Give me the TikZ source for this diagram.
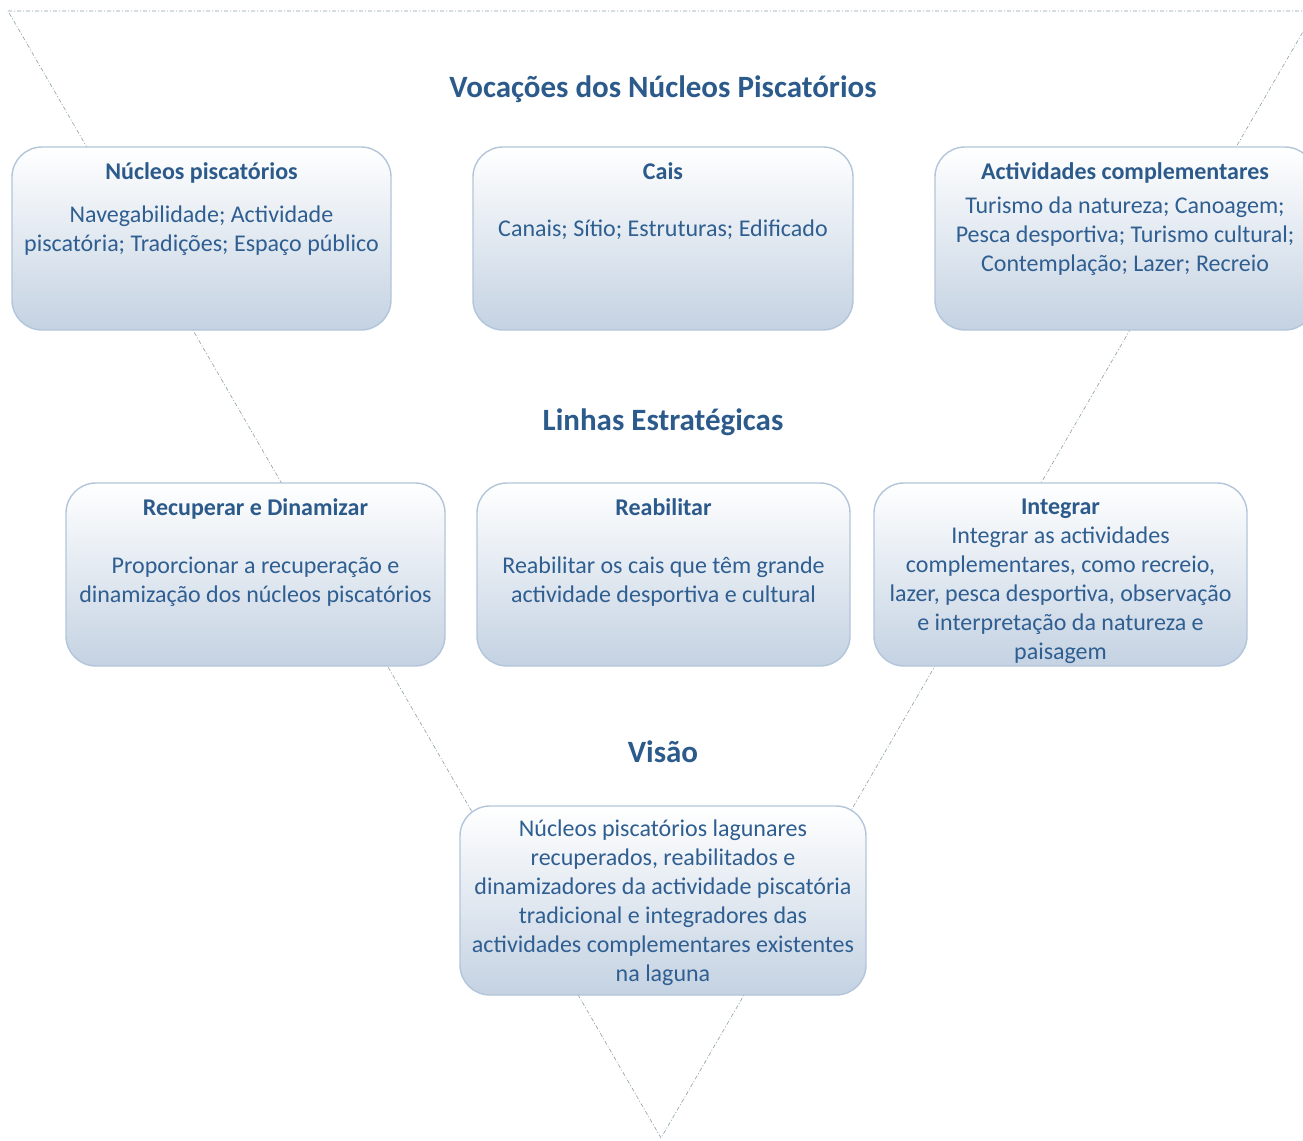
\documentclass[tikz,border=0pt]{standalone}
\usepackage{fontspec}
\setmainfont{Carlito}
\definecolor{inkblue}{HTML}{2F5E91}
\definecolor{headblue}{HTML}{2B5A8B}
\definecolor{boxedge}{HTML}{B2C5DA}
\definecolor{boxlow}{HTML}{C4D2E2}
\definecolor{guide}{HTML}{8A9EA8}
\begin{document}
\begin{tikzpicture}[x=1pt,y=-1pt,
  panel/.style={rectangle, rounded corners=30pt, draw=boxedge, line width=1.4pt,
    top color=white, bottom color=boxlow, inner sep=0pt},
  heading/.style={font=\fontsize{31}{36}\selectfont\bfseries, text=headblue, inner sep=0pt},
  boxtitle/.style={font=\fontsize{24}{29}\selectfont\bfseries, text=headblue, inner sep=0pt},
  boxtext/.style={font=\fontsize{24}{29}\selectfont, text=inkblue, align=center, inner sep=0pt},
  guideline/.style={draw=guide, line width=0.6pt, dash pattern=on 4pt off 2pt on 1pt off 2pt}]
\useasboundingbox (0,0) rectangle (1303,1140);
\begin{scope}
\clip (0,0) rectangle (1303,1140);
% inverted triangle behind the panels
\coordinate (tl) at (8,11);
\coordinate (tr) at (1315,11);
\coordinate (apex) at (661,1138);
\draw[guideline] (tl) -- (tr) -- (apex) -- cycle;

% first row: vocations
\node[panel, minimum width=379pt, minimum height=183pt] (np) at (201.5,238.5) {};
\node[panel, minimum width=380pt, minimum height=183pt] (cais) at (663,238.5) {};
\node[panel, minimum width=380pt, minimum height=183pt] (act) at (1125,238.5) {};

% second row: strategic lines
\node[panel, minimum width=379pt, minimum height=183pt] (rec) at (255.5,574.5) {};
\node[panel, minimum width=373pt, minimum height=183pt] (reab) at (663.5,574.5) {};
\node[panel, minimum width=373pt, minimum height=183pt] (integ) at (1060.5,574.5) {};

% vision
\node[panel, minimum width=406pt, minimum height=189pt] (visao) at (663,900.5) {};
\end{scope}

\node[heading] (h1) at (663,89) {Vocações dos Núcleos Piscatórios};
\node[heading] (h2) at (663,422) {Linhas Estratégicas};
\node[heading] (h3) at (663,752) {Visão};

\node[boxtitle] (npT) at (201.5,173) {Núcleos piscatórios};
\node[boxtext] (npB) at (201.5,230.5) {Navegabilidade; Actividade\\piscatória; Tradições; Espaço público};

\node[boxtitle] (caisT) at (663,171) {Cais};
\node[boxtext] (caisB) at (663,230) {Canais; Sítio; Estruturas; Edificado};

\node[boxtitle] (actT) at (1125,173) {Actividades complementares};
\node[boxtext] (actB) at (1125,236) {Turismo da natureza; Canoagem;\\Pesca desportiva; Turismo cultural;\\Contemplação; Lazer; Recreio};

\node[boxtitle] (recT) at (255.5,509) {Recuperar e Dinamizar};
\node[boxtext] (recB) at (255.5,581.5) {Proporcionar a recuperação e\\dinamização dos núcleos piscatórios};

\node[boxtitle] (reabT) at (663.5,507) {Reabilitar};
\node[boxtext] (reabB) at (663.5,581.5) {Reabilitar os cais que têm grande\\actividade desportiva e cultural};

\node[boxtitle] (integT) at (1060.5,509) {Integrar};
\node[boxtext] (integB) at (1060.5,595.5) {Integrar as actividades\\complementares, como recreio,\\lazer, pesca desportiva, observação\\e interpretação da natureza e\\paisagem};

\node[boxtext] (visaoB) at (663,903) {Núcleos piscatórios lagunares\\recuperados, reabilitados e\\dinamizadores da actividade piscatória\\tradicional e integradores das\\actividades complementares existentes\\na laguna};
\end{tikzpicture}
\end{document}
